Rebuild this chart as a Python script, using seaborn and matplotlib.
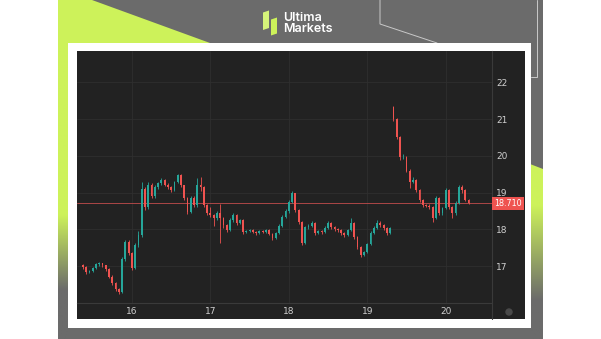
import numpy as np
import matplotlib
matplotlib.use("Agg")
import matplotlib.pyplot as plt
from matplotlib.patches import Rectangle, Polygon, Circle
import seaborn as sns

# ---------------- data (hourly candles) ----------------
opens = [17.02, 16.97, 16.84, 16.86, 16.95, 17.05, 17.08, 17.02, 16.92, 16.72,
         16.55, 16.38, 16.29, 17.20, 17.65, 17.35, 16.95, 17.57, 17.85, 19.10,
         18.60, 19.20, 18.90, 19.15, 19.25, 19.34, 19.22, 19.15, 19.07, 19.28,
         19.47, 19.20, 18.85, 18.47, 18.85, 18.66, 19.20, 19.15, 18.66, 18.45,
         18.39, 18.30, 18.44, 18.30, 18.11, 17.98, 18.25, 18.39, 18.17, 18.25,
         17.92, 17.95, 17.98, 17.93, 17.90, 17.95, 17.92, 17.98, 17.88, 17.76,
         17.90, 18.10, 18.33, 18.50, 18.75, 18.98, 18.52, 18.20, 17.62, 18.06,
         18.10, 18.17, 17.90, 17.95, 17.92, 18.05, 18.17, 18.06, 18.00, 17.98,
         17.90, 17.84, 17.98, 18.17, 17.79, 17.52, 17.30, 17.38, 17.60, 17.90,
         18.05, 18.17, 18.11, 18.03, 17.90,
         21.32, 21.00, 20.50, 19.96, 19.98, 19.60, 19.30, 19.34, 19.07, 18.79,
         18.66, 18.64, 18.60, 18.30, 18.85, 18.44, 18.58, 19.07, 18.60, 18.44,
         18.71, 19.15, 19.07, 18.80]
closes = [16.97, 16.84, 16.86, 16.95, 17.05, 17.08, 17.02, 16.92, 16.72, 16.55,
          16.38, 16.29, 17.20, 17.65, 17.35, 16.95, 17.57, 17.85, 19.10, 18.60,
          19.20, 18.90, 19.15, 19.25, 19.34, 19.22, 19.15, 19.07, 19.28, 19.47,
          19.20, 18.85, 18.47, 18.85, 18.66, 19.20, 19.15, 18.66, 18.45, 18.39,
          18.30, 18.44, 18.30, 18.11, 17.98, 18.25, 18.39, 18.17, 18.25, 17.92,
          17.95, 17.98, 17.93, 17.90, 17.95, 17.92, 17.98, 17.88, 17.76, 17.90,
          18.10, 18.33, 18.50, 18.75, 18.98, 18.52, 18.20, 17.62, 18.06, 18.10,
          18.17, 17.90, 17.95, 17.92, 18.05, 18.17, 18.06, 18.00, 17.98, 17.90,
          17.84, 17.98, 18.17, 17.79, 17.52, 17.30, 17.38, 17.60, 17.90, 18.05,
          18.17, 18.11, 18.03, 17.90, 18.03,
          21.00, 20.50, 19.96, 19.98, 19.60, 19.30, 19.34, 19.07, 18.79, 18.66,
          18.64, 18.60, 18.30, 18.85, 18.44, 18.58, 19.07, 18.60, 18.44, 18.71,
          19.15, 19.07, 18.80, 18.71]
highs = [17.06, 17.00, 16.90, 16.99, 17.09, 17.12, 17.10, 17.04, 16.95, 16.75,
         16.58, 16.41, 17.25, 17.72, 17.70, 17.38, 17.62, 17.95, 19.30, 19.15,
         19.28, 19.25, 19.20, 19.30, 19.40, 19.38, 19.26, 19.18, 19.32, 19.52,
         19.50, 19.22, 18.88, 18.92, 18.90, 19.40, 19.42, 19.18, 18.70, 18.60,
         18.42, 18.50, 18.70, 18.34, 18.14, 18.30, 18.44, 18.42, 18.29, 18.27,
         17.99, 18.02, 18.01, 17.96, 17.99, 17.98, 18.02, 18.00, 17.90, 17.94,
         18.14, 18.38, 18.55, 18.80, 19.05, 19.00, 18.55, 18.23, 18.10, 18.14,
         18.22, 18.20, 17.99, 17.98, 18.09, 18.22, 18.20, 18.09, 18.03, 18.00,
         17.93, 18.02, 18.30, 18.20, 17.82, 17.55, 17.42, 17.64, 17.95, 18.10,
         18.25, 18.22, 18.15, 18.06, 18.07,
         21.36, 21.03, 20.53, 20.05, 20.00, 19.63, 19.42, 19.37, 19.10, 18.82,
         18.70, 18.68, 18.63, 18.90, 18.88, 18.62, 19.12, 19.10, 18.64, 18.76,
         19.22, 19.20, 19.10, 18.83]
lows = [16.92, 16.80, 16.81, 16.84, 16.93, 17.01, 16.98, 16.88, 16.68, 16.50,
        16.33, 16.25, 16.27, 17.15, 17.30, 16.90, 16.92, 17.52, 17.80, 18.52,
        18.55, 18.85, 18.86, 19.10, 19.20, 19.18, 19.10, 19.02, 19.04, 19.25,
        19.15, 18.80, 18.42, 18.44, 18.60, 18.62, 19.05, 18.60, 18.40, 18.34,
        18.10, 18.26, 17.62, 18.05, 17.92, 17.95, 18.20, 18.12, 18.14, 17.88,
        17.89, 17.92, 17.90, 17.86, 17.87, 17.89, 17.90, 17.84, 17.72, 17.73,
        17.87, 18.07, 18.30, 18.46, 18.72, 18.47, 18.15, 17.58, 17.60, 18.02,
        18.07, 17.86, 17.87, 17.88, 17.90, 18.02, 18.02, 17.96, 17.94, 17.86,
        17.80, 17.81, 17.95, 17.75, 17.48, 17.26, 17.27, 17.35, 17.57, 17.87,
        18.02, 18.06, 17.98, 17.85, 17.87,
        20.95, 20.45, 19.90, 19.92, 19.55, 19.12, 19.25, 19.02, 18.74, 18.62,
        18.60, 18.55, 18.20, 18.27, 18.40, 18.40, 18.55, 18.55, 18.30, 18.40,
        18.68, 19.00, 18.76, 18.68]
first_day = 15.375          # first candle: day 15, 09:00
candle_hours = 1 / 24
last_price = 18.71
last_label = "18.710"
x_ticks = [16, 17, 18, 19, 20]
x_tick_labels = ["16", "17", "18", "19", "20"]
y_ticks = [17, 18, 19, 20, 21, 22]
y_tick_labels = ["17", "18", "19", "20", "21", "22"]
ohlc_parts = [("O", "18.71"), ("H", "18.71"), ("L", "18.71"), ("C", "18.71")]

# ---------------- styling ----------------
sns.set_theme(style="dark")
plt.rcParams["font.family"] = ["DejaVu Sans"]

W, H = 601, 339
fig = plt.figure(figsize=(W / 100, H / 100), dpi=100)
fig.patch.set_facecolor("white")

LIME = "#cdf25a"
GRAY = "#6b6b6b"
DARK = "#222222"

# background frame in pixel coordinates
bg = fig.add_axes([0, 0, 1, 1], zorder=0)
bg.set_xlim(0, W)
bg.set_ylim(H, 0)
bg.axis("off")
bg.add_patch(Rectangle((58, 0), 485, H, color=GRAY, lw=0))
bg.add_patch(Polygon([(58, 0), (92, 0), (210, 43), (58, 43)], closed=True, color=LIME, lw=0))

def vgrad(x0, x1, y0, y1, y_full, y_fade):
    ys = np.linspace(y0, y1, 200)
    t = np.clip((ys - y_full) / (y_fade - y_full), 0, 1)
    c1 = np.array(matplotlib.colors.to_rgb(LIME))
    c2 = np.array(matplotlib.colors.to_rgb(GRAY))
    img = (c1[None, :] * (1 - t[:, None]) + c2[None, :] * t[:, None])[:, None, :]
    bg.imshow(img, extent=(x0, x1, y1, y0), aspect="auto", interpolation="bilinear", zorder=1)

vgrad(58, 69, 43, H, 215, 290)
vgrad(530, 543, 160, H, 205, 300)
bg.add_patch(Polygon([(530, 160), (543, 160), (543, 169), (530, 164)], closed=True, color=GRAY, lw=0, zorder=2))
bg.set_xlim(0, W)
bg.set_ylim(H, 0)

# thin decorative lines
bg.plot([380, 380, 437], [0, 24, 43], color="#c9c9c9", lw=0.7, zorder=2)
bg.plot([537, 537, 531], [0, 77, 77], color="#c9c9c9", lw=0.7, zorder=2)

# white card and dark chart area
bg.add_patch(Rectangle((68, 43), 463, 285, color="white", lw=0, zorder=3))
bg.add_patch(Rectangle((77, 51), 448, 268, color=DARK, lw=0, zorder=4))
bg.plot([492, 492], [303, 319], color="#3a3a3a", lw=0.8, zorder=5)
bg.add_patch(Circle((509, 312), 3, color="#4a4a4a", zorder=5))

# logo
bg.add_patch(Polygon([(263, 12.5), (269, 10.5), (269, 28), (263, 30)], closed=True, color="#d6f47a", lw=0, zorder=5))
bg.add_patch(Polygon([(271, 19.5), (277, 17.5), (277, 33.5), (271, 35.5)], closed=True, color=LIME, lw=0, zorder=5))
bg.text(283.5, 18, "Ultima", color="white", fontsize=9, family="Inter", weight="semibold",
        ha="left", va="center", zorder=5)
bg.text(283.5, 29.5, "Markets", color="white", fontsize=9, family="Inter", weight="semibold",
        ha="left", va="center", zorder=5)

# OHLC legend
xs = [83, 113, 143, 171]
for (lab, val), x0 in zip(ohlc_parts, xs):
    bg.text(x0, 62, lab, color="#bdbdbd", fontsize=5.5, ha="left", va="center", zorder=6)
    bg.text(x0 + 7, 62, val, color="#46a34a", fontsize=5.5, ha="left", va="center", zorder=6)

# ---------------- candle chart ----------------
L, R, T, B = 77, 492, 51, 303
ax = fig.add_axes([L / W, (H - B) / H, (R - L) / W, (B - T) / H], zorder=2)
ax.set_facecolor(DARK)

o = np.array(opens)
c = np.array(closes)
hi = np.array(highs)
lo = np.array(lows)
x = first_day + np.arange(len(c)) * candle_hours
up = c >= o
col = np.where(up, "#26a69a", "#ef5350")

ax.vlines(x, lo, hi, colors=col, lw=0.6, zorder=3)
body = np.maximum(np.abs(c - o), 0.012)
ax.bar(x, body, bottom=np.minimum(o, c), width=candle_hours * 0.55, color=col, lw=0, zorder=4)

ax.axhline(last_price, color="#c44d4d", lw=0.7, alpha=0.85, zorder=2)

ax.set_xlim(15.30, 20.59)
ax.set_ylim(16.0, 22.85)
ax.set_xticks(x_ticks)
ax.set_xticklabels(x_tick_labels)
ax.set_yticks(y_ticks)
ax.set_yticklabels(y_tick_labels)
ax.yaxis.tick_right()
ax.tick_params(axis="both", length=0, colors="#d0d0d0", labelsize=6.5)
ax.tick_params(axis="y", pad=3)
ax.tick_params(axis="x", pad=3)
ax.grid(True, color="#2f2f2f", lw=0.6)
sns.despine(ax=ax, left=True, top=True, right=False, bottom=False)
for s in ("right", "bottom"):
    ax.spines[s].set_color("#3a3a3a")
    ax.spines[s].set_linewidth(0.8)

# last price tag
ax.annotate(last_label, xy=(1.0, last_price), xycoords=("axes fraction", "data"),
            xytext=(1.5, 0), textcoords="offset points", ha="left", va="center",
            fontsize=5.8, color="white",
            bbox=dict(boxstyle="square,pad=0.25", fc="#ef5350", ec="none"),
            annotation_clip=False, zorder=6)

fig.savefig("out.png", dpi=100)
